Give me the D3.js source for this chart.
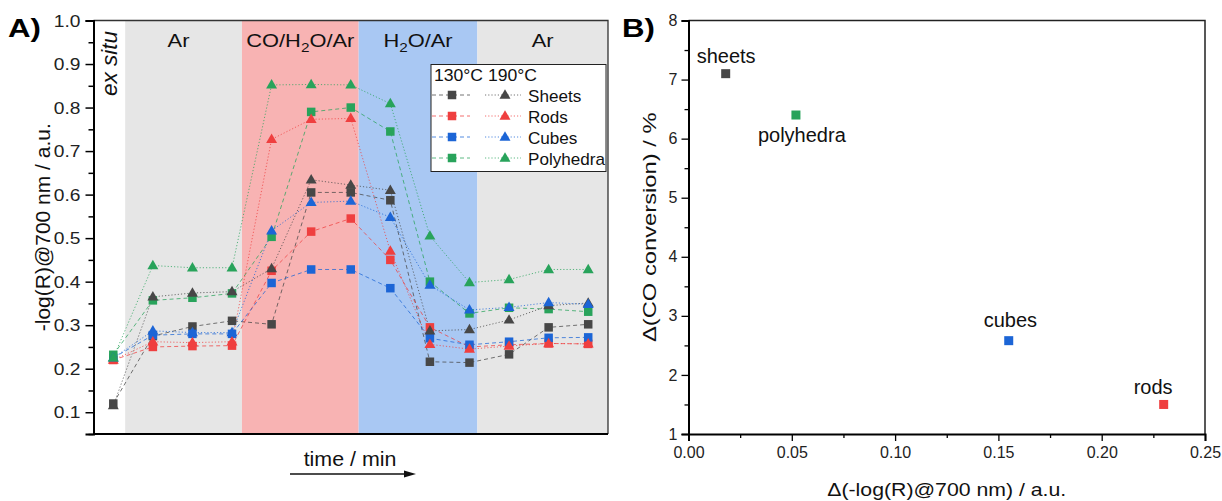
<!DOCTYPE html>
<html>
<head>
<meta charset="utf-8">
<script src="https://cdn.jsdelivr.net/npm/d3@7"></script>
<style>
body { margin: 0; background: #fff; }
svg { display: block; font-family: "Liberation Sans", Arial, sans-serif; }
</style>
</head>
<body>
<div id="chart"></div>
<script>
// ---- panel A data: 13 measurement steps, 130 °C (squares) and 190 °C (triangles)
var steps = d3.range(13);
var sheets130 = [0.12, 0.275, 0.297, 0.31, 0.302, 0.605, 0.605, 0.587, 0.216, 0.214, 0.233, 0.295, 0.302];
var sheets190 = [0.115, 0.365, 0.374, 0.377, 0.43, 0.634, 0.622, 0.61, 0.287, 0.29, 0.312, 0.345, 0.351];
var rods130 = [0.22, 0.25, 0.252, 0.253, 0.425, 0.515, 0.545, 0.45, 0.295, 0.25, 0.255, 0.258, 0.257];
var rods190 = [0.22, 0.262, 0.26, 0.262, 0.727, 0.773, 0.775, 0.47, 0.256, 0.245, 0.252, 0.258, 0.257];
var cubes130 = [0.225, 0.277, 0.28, 0.28, 0.397, 0.428, 0.428, 0.385, 0.27, 0.255, 0.262, 0.271, 0.272];
var cubes190 = [0.225, 0.287, 0.283, 0.283, 0.517, 0.582, 0.585, 0.548, 0.392, 0.335, 0.341, 0.352, 0.348];
var poly130 = [0.232, 0.357, 0.363, 0.373, 0.503, 0.79, 0.8, 0.745, 0.4, 0.327, 0.34, 0.337, 0.331];
var poly190 = [0.225, 0.437, 0.432, 0.432, 0.852, 0.853, 0.852, 0.809, 0.505, 0.398, 0.405, 0.428, 0.428];

var seriesNames = ["Sheets", "Rods", "Cubes", "Polyhedra"];
var seriesColors = ["#474747", "#ef3f3f", "#1c65d6", "#28a35b"];

// gas atmosphere bands (edges in step units)
var bandEdges = [-0.5, 0.3, 3.25, 6.2, 9.2, 12.5];
var bandLabels = ["ex situ", "Ar", "CO/H2O/Ar", "H2O/Ar", "Ar"];
var bandColors = ["#ffffff", "#e6e6e6", "#f8b3b3", "#a9c8f3", "#e6e6e6"];

var yTicksA = [0.1, 0.2, 0.3, 0.4, 0.5, 0.6, 0.7, 0.8, 0.9, 1.0];

// ---- panel B data
var shapes = ["sheets", "polyhedra", "cubes", "rods"];
var shapeColors = ["#474747", "#28a35b", "#1c65d6", "#ef3f3f"];
var deltaLog = [0.018, 0.052, 0.155, 0.23];
var deltaConv = [7.1, 6.4, 2.58, 1.5];
var xTicksB = [0, 0.05, 0.10, 0.15, 0.20, 0.25];
var yTicksB = [1, 2, 3, 4, 5, 6, 7, 8];

var width = 1222, height = 501;
var svg = d3.select("#chart").append("svg")
    .attr("width", width)
    .attr("height", height);

// horizontal text is slightly wide in the original figure
function label(parent, x, y, txt, size, anchor, sx){
    return parent.append("text")
        .attr("transform", "translate(" + x + "," + y + ") scale(" + (sx || 1) + ",1)")
        .attr("font-size", size)
        .attr("text-anchor", anchor || "start")
        .attr("fill", "#111")
        .text(txt);
}

function chemLabel(parent, x, y, txt, size, sx){
    // render "2" after H as subscript
    var t = parent.append("text")
        .attr("transform", "translate(" + x + "," + y + ") scale(" + sx + ",1)")
        .attr("font-size", size)
        .attr("text-anchor", "middle")
        .attr("fill", "#111");
    var parts = txt.split("H2O");
    parts.forEach(function(p, i){
        if (i > 0) {
            t.append("tspan").text("H");
            t.append("tspan").attr("dy", 5).attr("font-size", size * 0.7).text("2");
            t.append("tspan").attr("dy", -5).text("O" + p);
        } else {
            t.append("tspan").text(p);
        }
    });
    return t;
}

/////////////////////// panel A ///////////////////////
var A = { left: 93.5, right: 608, top: 20.5, bottom: 434 };
var xA = d3.scaleLinear().domain([-0.5, 12.5]).range([A.left, A.right]);
var yA = d3.scaleLinear().domain([0.05, 1.0]).range([A.bottom, A.top]);
var gA = svg.append("g");

gA.selectAll(".band")
    .data(bandLabels)
    .enter().append("rect")
    .attr("class", "band")
    .attr("x", function(d, i){ return xA(bandEdges[i]); })
    .attr("y", A.top)
    .attr("width", function(d, i){ return xA(bandEdges[i + 1]) - xA(bandEdges[i]); })
    .attr("height", A.bottom - A.top)
    .attr("fill", function(d, i){ return bandColors[i]; });

bandLabels.forEach(function(d, i){
    var cx = (xA(bandEdges[i]) + xA(bandEdges[i + 1])) / 2;
    if (i === 0) {
        gA.append("text")
            .attr("transform", "translate(" + (cx + 8) + ",96) rotate(-90)")
            .attr("font-size", 22.5)
            .attr("font-style", "italic")
            .attr("fill", "#111")
            .text(d);
    } else {
        chemLabel(gA, i === 1 ? cx - 5 : cx, 47, d, 19, 1.15);
    }
});

// frame
gA.append("path")
    .attr("d", "M" + A.left + "," + A.top + "H" + A.right + "V" + A.bottom)
    .attr("fill", "none").attr("stroke", "#333").attr("stroke-width", 1.3);
gA.append("line")
    .attr("x1", A.left).attr("x2", A.right)
    .attr("y1", A.bottom).attr("y2", A.bottom)
    .attr("stroke", "#000").attr("stroke-width", 2);

var yAxisA = gA.append("g")
    .attr("transform", "translate(" + A.left + ",0)")
    .call(d3.axisLeft(yA).tickValues(yTicksA).tickFormat(d3.format(".1f")).tickSize(8).tickPadding(4));
yAxisA.select(".domain").attr("stroke-width", 2);
yAxisA.selectAll(".tick line").attr("stroke-width", 1.5);
yAxisA.selectAll(".tick text").remove();
yTicksA.forEach(function(v){
    label(gA, A.left - 13, yA(v) + 6, d3.format(".1f")(v), 16, "end", 1.2).attr("fill", "#222");
});
gA.append("g")
    .attr("transform", "translate(" + A.left + ",0)")
    .call(d3.axisLeft(yA).tickValues(yTicksA.map(function(v){ return v - 0.05; })).tickSize(5).tickFormat(""))
    .call(function(g){ g.select(".domain").remove(); })
    .selectAll("line").attr("stroke-width", 1.5);

gA.append("text")
    .attr("transform", "translate(50," + ((A.top + A.bottom) / 2) + ") rotate(-90)")
    .attr("text-anchor", "middle")
    .attr("font-size", 21)
    .attr("fill", "#111")
    .text("-log(R)@700 nm / a.u.");

// lines: dashed for 130 °C, dotted for 190 °C
var lineA = d3.line()
    .x(function(d, i){ return xA(steps[i]); })
    .y(function(d){ return yA(d); });

var setsSq = [sheets130, rods130, cubes130, poly130];
var setsTri = [sheets190, rods190, cubes190, poly190];

setsSq.forEach(function(vals, k){
    gA.append("path").datum(vals)
        .attr("d", lineA).attr("fill", "none")
        .attr("stroke", seriesColors[k]).attr("stroke-opacity", 0.75)
        .attr("stroke-width", 1).attr("stroke-dasharray", "4,3");
});
setsTri.forEach(function(vals, k){
    gA.append("path").datum(vals)
        .attr("d", lineA).attr("fill", "none")
        .attr("stroke", seriesColors[k]).attr("stroke-opacity", 0.75)
        .attr("stroke-width", 1).attr("stroke-dasharray", "1.2,2");
});

var sq = 8.5;
setsSq.forEach(function(vals, k){
    gA.append("g").selectAll("rect")
        .data(vals).enter().append("rect")
        .attr("x", function(d, i){ return xA(steps[i]) - sq / 2; })
        .attr("y", function(d){ return yA(d) - sq / 2; })
        .attr("width", sq).attr("height", sq)
        .attr("fill", seriesColors[k]);
});
var tri = d3.symbol().type(d3.symbolTriangle).size(52);
setsTri.forEach(function(vals, k){
    gA.append("g").selectAll("path")
        .data(vals).enter().append("path")
        .attr("d", tri)
        .attr("transform", function(d, i){ return "translate(" + xA(steps[i]) + "," + (yA(d) + 0.5) + ")"; })
        .attr("fill", seriesColors[k]);
});

// legend
var leg = gA.append("g").attr("transform", "translate(431,64.5)");
leg.append("rect")
    .attr("width", 175).attr("height", 107)
    .attr("fill", "#fff").attr("stroke", "#222").attr("stroke-width", 1);
label(leg, 3, 16.5, "130°C 190°C", 16, "start", 1.1);
seriesNames.forEach(function(name, k){
    var ry = 30.5 + k * 21;
    leg.append("line").attr("x1", 1).attr("x2", 39).attr("y1", ry).attr("y2", ry)
        .attr("stroke", seriesColors[k]).attr("stroke-opacity", 0.75)
        .attr("stroke-dasharray", "4,3").attr("stroke-width", 1);
    leg.append("rect").attr("x", 21 - sq / 2).attr("y", ry - sq / 2)
        .attr("width", sq).attr("height", sq).attr("fill", seriesColors[k]);
    leg.append("line").attr("x1", 54).attr("x2", 90).attr("y1", ry).attr("y2", ry)
        .attr("stroke", seriesColors[k]).attr("stroke-opacity", 0.75)
        .attr("stroke-dasharray", "1.2,2").attr("stroke-width", 1);
    leg.append("path").attr("d", tri)
        .attr("transform", "translate(74," + (ry + 0.5) + ")")
        .attr("fill", seriesColors[k]);
    label(leg, 97, ry + 7, name, 16, "start", 1.07);
});

// time arrow
label(gA, 350, 466, "time / min", 20, "middle", 1.07);
gA.append("line").attr("x1", 290).attr("x2", 406).attr("y1", 474).attr("y2", 474)
    .attr("stroke", "#111").attr("stroke-width", 1.3);
gA.append("path").attr("d", "M404,470.5L416,474L404,477.5Z").attr("fill", "#111");

label(svg, 8, 37, "A)", 26, "start", 1.2).attr("font-weight", "bold").attr("fill", "#000");

/////////////////////// panel B ///////////////////////
var B = { left: 688.5, right: 1205, top: 20.5, bottom: 434 };
var xB = d3.scaleLinear().domain([0, 0.25]).range([B.left, B.right]);
var yB = d3.scaleLinear().domain([1, 8]).range([B.bottom, B.top]);
var gB = svg.append("g");

gB.append("path")
    .attr("d", "M" + B.left + "," + B.top + "H" + B.right + "V" + B.bottom)
    .attr("fill", "none").attr("stroke", "#222").attr("stroke-width", 1.5);

var xAxisB = gB.append("g")
    .attr("transform", "translate(0," + B.bottom + ")")
    .call(d3.axisBottom(xB).tickValues(xTicksB).tickFormat(d3.format(".2f")).tickSize(7).tickPadding(6));
var yAxisB = gB.append("g")
    .attr("transform", "translate(" + B.left + ",0)")
    .call(d3.axisLeft(yB).tickValues(yTicksB).tickFormat(d3.format("d")).tickSize(7).tickPadding(4));
[xAxisB, yAxisB].forEach(function(ax){
    ax.select(".domain").attr("stroke-width", 2);
    ax.selectAll(".tick line").attr("stroke-width", 1.3);
    ax.selectAll(".tick text").attr("font-size", 16).attr("fill", "#222")
        .attr("font-family", "Liberation Sans, Arial, sans-serif");
});
gB.append("g")
    .attr("transform", "translate(0," + B.bottom + ")")
    .call(d3.axisBottom(xB).tickValues(xTicksB.slice(1).map(function(v){ return v - 0.025; })).tickSize(4).tickFormat(""))
    .call(function(g){ g.select(".domain").remove(); })
    .selectAll("line").attr("stroke-width", 1.3);
gB.append("g")
    .attr("transform", "translate(" + B.left + ",0)")
    .call(d3.axisLeft(yB).tickValues(yTicksB.slice(1).map(function(v){ return v - 0.5; })).tickSize(4).tickFormat(""))
    .call(function(g){ g.select(".domain").remove(); })
    .selectAll("line").attr("stroke-width", 1.3);

label(gB, (B.left + B.right) / 2, 496, "\u0394(-log(R)@700 nm) / a.u.", 18.5, "middle", 1.15);
gB.append("text")
    .attr("transform", "translate(656," + ((B.top + B.bottom) / 2) + ") rotate(-90) scale(1.25,1)")
    .attr("text-anchor", "middle").attr("font-size", 19).attr("fill", "#111")
    .text("\u0394(CO conversion) / %");

var bsq = 9;
gB.selectAll(".pt")
    .data(shapes).enter().append("rect")
    .attr("class", "pt")
    .attr("x", function(d, i){ return xB(deltaLog[i]) - bsq / 2; })
    .attr("y", function(d, i){ return yB(deltaConv[i]) - bsq / 2; })
    .attr("width", bsq).attr("height", bsq)
    .attr("fill", function(d, i){ return shapeColors[i]; });

// point labels: offsets relative to the point
var labelOffsets = [[-29, -11], [-38, 27], [-25, -14], [-30, -10]];
gB.selectAll(".ptlab")
    .data(shapes).enter().append("text")
    .attr("class", "ptlab")
    .attr("x", function(d, i){ return xB(deltaLog[i]) + labelOffsets[i][0]; })
    .attr("y", function(d, i){ return yB(deltaConv[i]) + labelOffsets[i][1]; })
    .attr("font-size", 20).attr("fill", "#111")
    .text(function(d){ return d; });

label(svg, 622, 37, "B)", 26, "start", 1.2).attr("font-weight", "bold").attr("fill", "#000");
</script>
</body>
</html>
